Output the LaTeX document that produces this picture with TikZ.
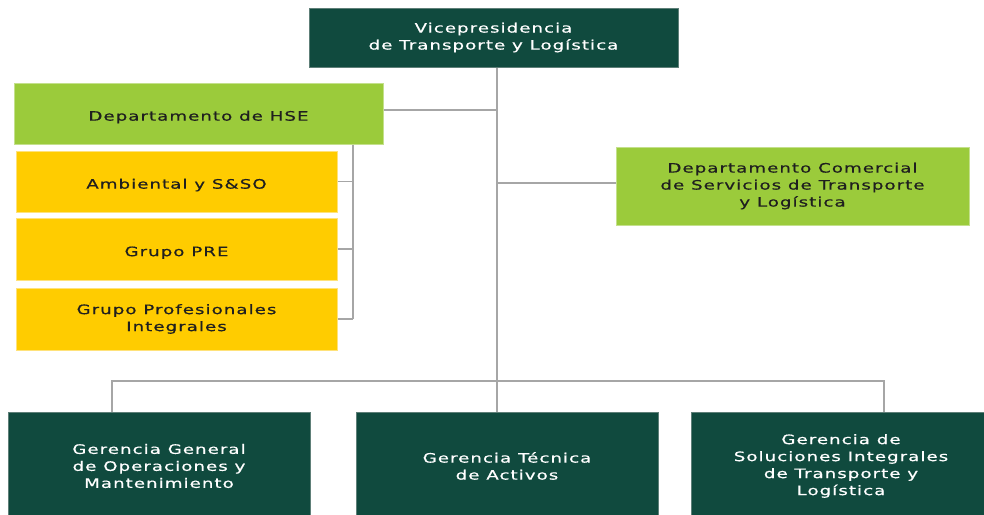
\documentclass[tikz,border=0pt]{standalone}
\usepackage{fontspec}
\newfontfamily\orgfont[FakeStretch=1.4,LetterSpace=8,FakeBold=0.6]{DejaVu Sans}
\definecolor{darkg}{HTML}{104A3E}
\definecolor{darkgb}{HTML}{5E7F78}
\definecolor{lightg}{HTML}{9BCB3B}
\definecolor{lightgb}{HTML}{C4E08C}
\definecolor{yel}{HTML}{FFCC00}
\definecolor{yelb}{HTML}{FFE27A}
\definecolor{txtd}{HTML}{1F1F1F}
\definecolor{conncol}{HTML}{A6A6A6}
\begin{document}
\begin{tikzpicture}[x=1pt,y=-1pt,
  box/.style={rectangle,align=center,inner sep=0pt,line width=1pt,
    font=\orgfont\fontsize{13}{17}\selectfont,
    execute at begin node={\rule{0pt}{17pt}}},
  darkbox/.style={box,fill=darkg,draw=darkgb,text=white},
  greenbox/.style={box,fill=lightg,draw=lightgb,text=txtd},
  yelbox/.style={box,fill=yel,draw=yelb,text=txtd},
  conn/.style={draw=conncol,line width=1.5pt}]
\useasboundingbox (0,0) rectangle (984,514);
\clip (0,0) rectangle (984,514);
\fill[white] (0,0) rectangle (984,514);

\node[darkbox,minimum width=369pt,minimum height=59pt] (top) at (493.5,37.5)
  {Vicepresidencia\\de Transporte y Logística};
\node[greenbox,minimum width=369pt,minimum height=61pt] (hse) at (198.5,113.5)
  {Departamento de HSE};
\node[yelbox,minimum width=321pt,minimum height=61pt] (y1) at (176.5,181.5)
  {Ambiental y S\&SO};
\node[yelbox,minimum width=321pt,minimum height=62pt] (y2) at (176.5,249)
  {Grupo PRE};
\node[yelbox,minimum width=321pt,minimum height=62pt] (y3) at (176.5,319)
  {Grupo Profesionales\\Integrales};
\node[greenbox,minimum width=353pt,minimum height=78pt] (com) at (792.5,186)
  {Departamento Comercial\\de Servicios de Transporte\\y Logística};
\node[darkbox,minimum width=302pt,minimum height=108pt] (b1) at (159,466)
  {Gerencia General\\de Operaciones y\\Mantenimiento};
\node[darkbox,minimum width=302pt,minimum height=108pt] (b2) at (507,466)
  {Gerencia Técnica\\de Activos};
\node[darkbox,minimum width=300pt,minimum height=108pt] (b3) at (841,466)
  {Gerencia de\\Soluciones Integrales\\de Transporte y\\Logística};

\coordinate (tr) at (497,0);
\coordinate (hb) at (353,0);
\coordinate (bl) at (112,381);
\coordinate (br) at (884,381);
\coordinate (hl) at (0,110);
\coordinate (cl) at (0,183);

\draw[conn] (top.south -| tr) -- (b2.north -| tr);
\draw[conn] (hse.east |- hl) -- (tr |- hl);
\draw[conn] (tr |- cl) -- (com.west |- cl);
\draw[conn] (hse.south -| hb) -- (y3.east -| hb);
\draw[conn] (y1.east) -- (y1.east -| hb);
\draw[conn] (y2.east) -- (y2.east -| hb);
\draw[conn] (y3.east) -- (y3.east -| hb);
\draw[conn] (b1.north -| bl) -- (bl) -- (br) -- (b3.north -| br);
\end{tikzpicture}
\end{document}
